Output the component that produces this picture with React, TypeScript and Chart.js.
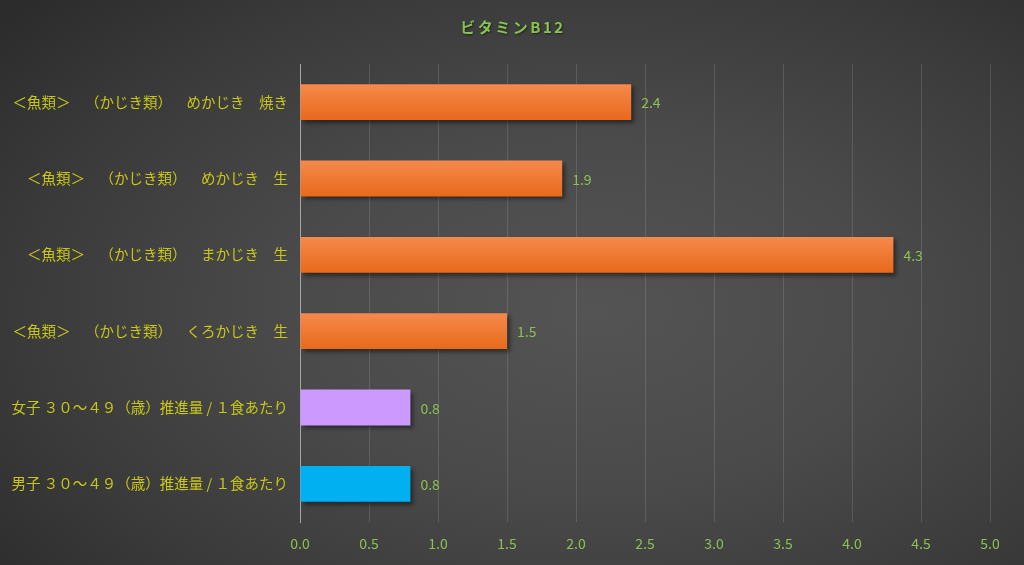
import React, { useEffect, useRef } from "react";
import { Chart, registerables } from "chart.js";

Chart.register(...registerables);

const chartTitle = "ビタミンB12";
const categories = [
  "＜魚類＞\u2003（かじき類）\u2003めかじき\u2003焼き",
  "＜魚類＞\u2003（かじき類）\u2003めかじき\u2003生",
  "＜魚類＞\u2003（かじき類）\u2003まかじき\u2003生",
  "＜魚類＞\u2003（かじき類）\u2003くろかじき\u2003生",
  "女子 ３０～４９（歳）推進量 / １食あたり",
  "男子 ３０～４９（歳）推進量 / １食あたり",
];
const values = [2.4, 1.9, 4.3, 1.5, 0.8, 0.8];
const barKinds = ["food", "food", "food", "food", "female", "male"];
const xMin = 0;
const xMax = 5;
const xStep = 0.5;

const JP = '"Noto Sans CJK JP", "Noto Sans", sans-serif';

export default function App() {
  const ref = useRef<HTMLCanvasElement | null>(null);

  useEffect(() => {
    document.body.style.margin = "0";
    const canvas = ref.current;
    if (!canvas) return;

    const titlePlugin = {
      id: "customTitle",
      afterDraw(chart: any) {
        const ctx = chart.ctx;
        ctx.save();
        ctx.font = `bold 15px ${JP}`;
        (ctx as any).letterSpacing = "2.5px";
        ctx.fillStyle = "#86c44f";
        ctx.textAlign = "center";
        ctx.textBaseline = "middle";
        ctx.shadowColor = "rgba(0,0,0,0.5)";
        ctx.shadowOffsetX = 1;
        ctx.shadowOffsetY = 1;
        ctx.shadowBlur = 2;
        ctx.fillText(chartTitle, 513, 27);
        ctx.restore();
      },
    };

    const shadowPlugin = {
      id: "barShadow",
      beforeDatasetDraw(chart: any) {
        const ctx = chart.ctx;
        ctx.save();
        ctx.shadowColor = "rgba(0,0,0,0.45)";
        ctx.shadowOffsetX = 3;
        ctx.shadowOffsetY = 3;
        ctx.shadowBlur = 4;
      },
      afterDatasetDraw(chart: any) {
        chart.ctx.restore();
      },
    };

    const labelPlugin = {
      id: "valueLabels",
      afterDatasetsDraw(chart: any) {
        const ctx = chart.ctx;
        const meta = chart.getDatasetMeta(0);
        ctx.save();
        ctx.font = `14px ${JP}`;
        ctx.fillStyle = "#8cc152";
        ctx.textAlign = "left";
        ctx.textBaseline = "middle";
        meta.data.forEach((bar: any, i: number) => {
          ctx.fillText(values[i].toFixed(1), bar.x + 10, bar.y + 1);
        });
        ctx.restore();
      },
    };

    const chart = new Chart(canvas, {
      type: "bar",
      data: {
        labels: categories,
        datasets: [
          {
            data: values,
            barPercentage: 0.47,
            categoryPercentage: 1,
            backgroundColor: (c: any) => {
              const kind = barKinds[c.dataIndex];
              if (kind === "female") return "#cc99ff";
              if (kind === "male") return "#00b0f0";
              const ch = c.chart;
              const ys = ch.scales?.y;
              if (!ys) return "#ee7b30";
              const cy = ys.getPixelForValue(c.dataIndex);
              if (!Number.isFinite(cy)) return "#ee7b30";
              const g = ch.ctx.createLinearGradient(0, cy - 18, 0, cy + 18);
              g.addColorStop(0, "#f58a4c");
              g.addColorStop(1, "#e8691b");
              return g;
            },
            borderWidth: 0,
          },
        ],
      },
      options: {
        indexAxis: "y",
        responsive: false,
        animation: false,
        layout: { padding: { top: 64, right: 34, left: 0, bottom: 0 } },
        plugins: {
          legend: { display: false },
          title: { display: false },
          tooltip: { enabled: false },
        },
        scales: {
          x: {
            min: xMin,
            max: xMax,
            ticks: {
              stepSize: xStep,
              color: "#8cc152",
              font: { size: 14, family: JP },
              padding: 13,
              callback: (v: any) => Number(v).toFixed(1),
            },
            grid: {
              color: "rgba(255,255,255,0.13)",
              drawTicks: false,
              lineWidth: 1,
            },
            border: { display: false },
            afterFit: (s: any) => {
              s.height = 43;
            },
          },
          y: {
            ticks: {
              color: "#c9c716",
              font: { size: 14.5, family: JP },
              padding: 12,
              autoSkip: false,
            },
            grid: { display: false, drawTicks: false },
            border: { display: true, color: "#a6a6a6", width: 1 },
            afterFit: (s: any) => {
              s.width = 300;
            },
          },
        },
      },
      plugins: [titlePlugin, shadowPlugin, labelPlugin],
    } as any);

    return () => chart.destroy();
  }, []);

  return (
    <div
      style={{
        position: "absolute",
        left: 0,
        top: 0,
        width: 1024,
        height: 565,
        background:
          "radial-gradient(ellipse 75% 80% at 58% 55%, #545454 0%, #4a4a4a 40%, #3a3a3a 75%, #2c2c2c 100%)",
      }}
    >
      <canvas ref={ref} width={1024} height={565} style={{ display: "block" }} />
    </div>
  );
}
